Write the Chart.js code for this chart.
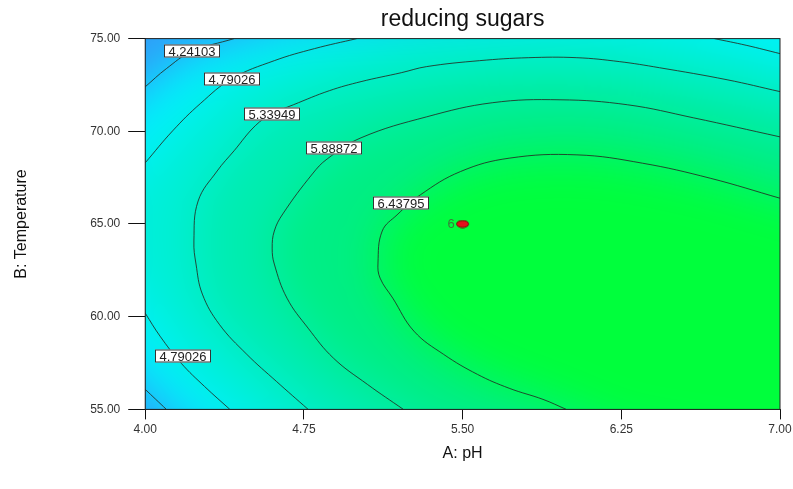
<!DOCTYPE html>
<html lang="en">
<head>
<meta charset="UTF-8" />
<title>reducing sugars</title>
<script src="https://cdn.jsdelivr.net/npm/chart.js"></script>
<style>
  body { margin: 0; background: #fff; }
</style>
</head>
<body>
<canvas id="myChart" width="793" height="489"></canvas>
<script>
  // contour lines, [A: pH, B: Temperature]
  const c424Top = [[4.00, 72.40], [4.10, 73.38], [4.22, 74.30], [4.42, 75.00]];
  const c424Bottom = [[4.00, 56.08], [4.05, 55.54], [4.10, 55.00]];
  const c479Top = [[4.00, 68.30], [4.13, 70.03], [4.26, 71.49], [4.41, 72.84], [4.61, 73.81], [4.80, 74.46], [5.00, 75.00]];
  const c479Corner = [[6.69, 75.00], [6.84, 74.64], [7.00, 74.19]];
  const c479Bottom = [[4.00, 60.19], [4.07, 58.95], [4.17, 57.49], [4.28, 56.24], [4.40, 55.00]];
  const c534 = [[4.77, 55.00], [4.62, 56.51], [4.48, 57.97], [4.35, 59.59], [4.27, 61.22], [4.24, 62.84],
    [4.23, 64.08], [4.25, 66.24], [4.34, 67.86], [4.42, 68.95], [4.52, 70.30], [4.60, 70.95], [4.70, 71.43],
    [4.87, 72.19], [5.02, 72.68], [5.21, 73.16], [5.33, 73.49], [5.58, 73.81], [5.81, 73.97], [6.04, 73.97],
    [6.24, 73.76], [6.43, 73.43], [6.75, 72.78], [7.00, 72.14]];
  const c589 = [[5.22, 55.00], [5.05, 56.35], [4.89, 57.76], [4.77, 59.38], [4.67, 61.00], [4.61, 62.84],
    [4.60, 63.70], [4.61, 64.62], [4.65, 65.54], [4.79, 67.70], [4.86, 68.51], [5.02, 69.65], [5.33, 70.78],
    [5.64, 71.54], [5.96, 71.70], [6.28, 71.43], [6.59, 70.73], [7.00, 69.70]];
  const c644 = [[5.99, 55.00], [5.88, 55.54], [5.72, 56.14], [5.57, 56.89], [5.41, 57.97], [5.27, 59.22],
    [5.17, 61.00], [5.11, 62.08], [5.10, 62.89], [5.12, 64.62], [5.19, 65.49], [5.30, 66.57], [5.49, 67.83],
    [5.72, 68.55], [6.04, 68.73], [6.35, 68.28], [6.67, 67.47], [7.00, 66.39]];

  // contour value tags
  const labelText = ['4.24103', '4.79026', '5.33949', '5.88872', '6.43795', '4.79026'];
  const labelX = [4.22, 4.41, 4.60, 4.89, 5.21, 4.18];
  const labelY = [74.32, 72.84, 70.95, 69.11, 66.14, 57.86];

  // design point
  const designX = [5.50];
  const designY = [65.00];
  const designRuns = ['6'];

  const xTicks = [4.00, 4.75, 5.50, 6.25, 7.00];
  const yTicks = [55.00, 60.00, 65.00, 70.00, 75.00];

  const FONT = "'Liberation Sans', Arial, sans-serif";
  const lineColor = 'rgba(35, 45, 35, 0.85)';
  const bandColors = ['#2f9ef8', '#00f2fe', '#00efd8', '#00edb0', '#00ee84', '#00ff3c'];

  // regions above each level, built from the contour lines and plot corners
  const regions = [
    [[c424Bottom, 1], 'br', 'tr', [c424Top, -1]],
    [[c479Bottom, 1], 'br', [c479Corner, -1], [c479Top, -1]],
    [[c534, 1], 'br'],
    [[c589, 1], 'br'],
    [[c644, 1], 'br']
  ];

  function extend(q, m) {
    const ext = (a, b) => {
      const dx = a[0] - b[0], dy = a[1] - b[1], d = Math.hypot(dx, dy) || 1;
      return [a[0] + dx / d * m, a[1] + dy / d * m];
    };
    return [ext(q[0], q[1]), ...q, ext(q[q.length - 1], q[q.length - 2])];
  }

  const bandPlugin = {
    id: 'bands',
    beforeDatasetsDraw(chart) {
      const { ctx, chartArea: a, scales: { x, y } } = chart;
      const M = 60, P = 120;
      const toPx = p => [x.getPixelForValue(p[0]), y.getPixelForValue(p[1])];
      const corners = { br: [a.right + M, a.bottom + M], tr: [a.right + M, a.top - M] };
      const off = document.createElement('canvas');
      off.width = chart.width + 2 * P;
      off.height = chart.height + 2 * P;
      const o = off.getContext('2d');
      o.translate(P, P);
      o.fillStyle = bandColors[0];
      o.fillRect(-P, -P, off.width, off.height);
      regions.forEach((parts, i) => {
        const pts = [];
        parts.forEach(part => {
          if (typeof part === 'string') { pts.push(corners[part]); return; }
          let q = extend(part[0].map(toPx), M);
          if (part[1] < 0) q = q.reverse();
          pts.push(...q);
        });
        o.beginPath();
        pts.forEach((p, j) => j ? o.lineTo(p[0], p[1]) : o.moveTo(p[0], p[1]));
        o.closePath();
        o.fillStyle = bandColors[i + 1];
        o.fill();
      });
      ctx.save();
      ctx.beginPath();
      ctx.rect(a.left, a.top, a.width, a.height);
      ctx.clip();
      ctx.filter = 'blur(24px)';
      ctx.drawImage(off, -P, -P);
      ctx.restore();
    }
  };

  const tagPlugin = {
    id: 'tags',
    afterDatasetsDraw(chart) {
      const { ctx, chartArea: a, scales: { x, y } } = chart;
      ctx.save();
      ctx.strokeStyle = '#222';
      ctx.lineWidth = 1;
      ctx.strokeRect(a.left, a.top, a.width, a.height);
      ctx.font = '13px ' + FONT;
      ctx.textAlign = 'center';
      ctx.textBaseline = 'middle';
      labelText.forEach((t, i) => {
        const px = Math.round(x.getPixelForValue(labelX[i]));
        const py = Math.round(y.getPixelForValue(labelY[i]));
        const w = Math.round(ctx.measureText(t).width) + 9, h = 13;
        ctx.fillStyle = '#fff';
        ctx.fillRect(px - w / 2, py - h / 2, w, h);
        ctx.strokeStyle = '#333';
        ctx.strokeRect(px - w / 2 + 0.5, py - h / 2 + 0.5, w - 1, h - 1);
        ctx.fillStyle = '#222';
        ctx.fillText(t, px, py + 1);
      });
      ctx.textAlign = 'right';
      ctx.fillStyle = '#3c7a3c';
      designRuns.forEach((t, i) => {
        ctx.fillText(t, x.getPixelForValue(designX[i]) - 8, y.getPixelForValue(designY[i]));
      });
      ctx.restore();
    }
  };

  const dot = document.createElement('canvas');
  dot.width = 15;
  dot.height = 9;
  const dctx = dot.getContext('2d');
  dctx.fillStyle = '#e3101c';
  dctx.strokeStyle = '#7a0000';
  dctx.beginPath();
  dctx.ellipse(7.5, 4.5, 6, 3.5, 0, 0, 2 * Math.PI);
  dctx.fill();
  dctx.stroke();

  const contourSets = [c424Top, c424Bottom, c479Top, c479Corner, c479Bottom, c534, c589, c644].map(c => ({
    data: c.map(p => ({ x: p[0], y: p[1] })),
    showLine: true,
    tension: 0.4,
    borderColor: lineColor,
    borderWidth: 1,
    pointRadius: 0
  }));

  const ctx = document.getElementById('myChart').getContext('2d');
  const myChart = new Chart(ctx, {
    type: 'scatter',
    data: {
      datasets: [
        {
          data: designX.map((v, i) => ({ x: v, y: designY[i] })),
          pointStyle: dot,
          pointRadius: 6
        },
        ...contourSets
      ]
    },
    options: {
      responsive: false,
      animation: false,
      layout: { padding: { left: 12, right: 0, top: 0, bottom: 0 } },
      plugins: {
        legend: { display: false },
        tooltip: { enabled: false },
        title: {
          display: true,
          text: 'reducing sugars',
          fullSize: false,
          color: '#111',
          font: { family: FONT, size: 23, weight: 'normal' },
          padding: { top: 6, bottom: 5 }
        }
      },
      scales: {
        x: {
          type: 'linear',
          min: 4,
          max: 7,
          afterBuildTicks: axis => { axis.ticks = xTicks.map(v => ({ value: v })); },
          afterFit: axis => { axis.paddingRight = 13; },
          ticks: { callback: v => v.toFixed(2), color: '#333', font: { family: FONT, size: 12 }, padding: 3, maxRotation: 0 },
          grid: { drawOnChartArea: false, tickLength: 10, color: '#111' },
          border: { color: '#222' },
          title: { display: true, text: 'A: pH', color: '#111', font: { family: FONT, size: 16 }, padding: { top: 4, bottom: 26 } }
        },
        y: {
          type: 'linear',
          min: 55,
          max: 75,
          afterBuildTicks: axis => { axis.ticks = yTicks.map(v => ({ value: v })); },
          ticks: { callback: v => v.toFixed(2), color: '#333', font: { family: FONT, size: 12 }, padding: 8 },
          grid: { drawOnChartArea: false, tickLength: 17, color: '#111' },
          border: { color: '#222' },
          title: { display: true, text: 'B: Temperature', color: '#111', font: { family: FONT, size: 16 }, padding: { top: 0, bottom: 51 } }
        }
      }
    },
    plugins: [bandPlugin, tagPlugin]
  });
</script>
</body>
</html>
